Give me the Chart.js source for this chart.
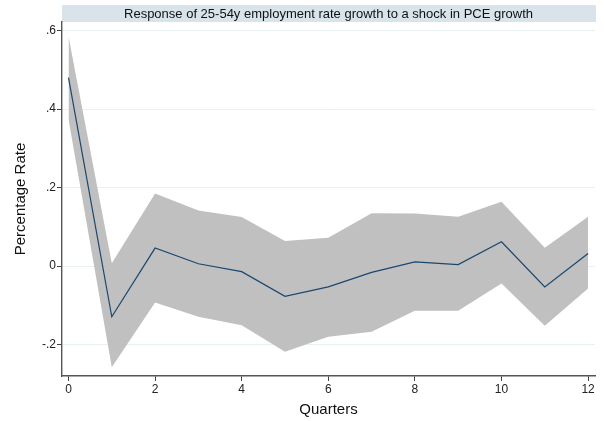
<!DOCTYPE html>
<html>
<head>
<meta charset="utf-8">
<title>Impulse response</title>
<script src="https://cdn.jsdelivr.net/npm/chart.js@4.4.1/dist/chart.umd.min.js"></script>
<style>
  html, body { margin: 0; padding: 0; background: #fff; }
  #irf-chart { display: block; }
</style>
</head>
<body>
<canvas id="irf-chart" width="605" height="421"></canvas>
<script>
// Horizon in quarters
const quarters = [0, 1, 2, 3, 4, 5, 6, 7, 8, 9, 10, 11, 12];
// Point estimate of the response
const response = [0.48, -0.129, 0.046, 0.006, -0.014, -0.077, -0.053, -0.016, 0.011, 0.004, 0.062, -0.053, 0.032];
// Confidence band
const upperBand = [0.586, 0.007, 0.185, 0.142, 0.125, 0.064, 0.072, 0.135, 0.134, 0.126, 0.164, 0.047, 0.126];
const lowerBand = [0.374, -0.258, -0.093, -0.129, -0.151, -0.218, -0.18, -0.167, -0.114, -0.114, -0.044, -0.152, -0.057];
// Axis ticks
const xTicks = [0, 2, 4, 6, 8, 10, 12];
const yTicks = [-0.2, 0, 0.2, 0.4, 0.6];

const chartTitle = 'Response of 25-54y employment rate growth to a shock in PCE growth';
const FONT = '"Liberation Sans", Arial, sans-serif';

const toPoints = arr => arr.map((v, i) => ({ x: quarters[i], y: v }));

// stata-ish number format: .6, -.2, 0
const fmt = v => {
  const r = Math.round(v * 10) / 10;
  if (r === 0) return '0';
  return String(r).replace(/^(-?)0\./, '$1.');
};

// title band sitting over the plot area
const titleBand = {
  id: 'titleBand',
  beforeDraw(chart) {
    const { ctx, chartArea } = chart;
    ctx.save();
    ctx.fillStyle = '#d8e4ea';
    ctx.fillRect(chartArea.left, 5, chartArea.right - chartArea.left + 1, 17);
    ctx.fillStyle = '#111';
    ctx.font = '13px ' + FONT;
    ctx.textAlign = 'center';
    ctx.textBaseline = 'middle';
    ctx.fillText(chartTitle, (chartArea.left + chartArea.right) / 2, 14);
    ctx.restore();
  }
};

const ctx = document.getElementById('irf-chart').getContext('2d');
new Chart(ctx, {
  type: 'line',
  data: {
    datasets: [
      {
        label: 'IRF',
        data: toPoints(response),
        borderColor: '#1a476f',
        borderWidth: 1.2,
        pointRadius: 0,
        fill: false,
        tension: 0
      },
      {
        label: 'Upper',
        data: toPoints(upperBand),
        borderWidth: 0,
        borderColor: 'rgba(0,0,0,0)',
        backgroundColor: '#c0c0c0',
        pointRadius: 0,
        fill: '+1'
      },
      {
        label: 'Lower',
        data: toPoints(lowerBand),
        borderWidth: 0,
        borderColor: 'rgba(0,0,0,0)',
        pointRadius: 0,
        fill: false
      }
    ]
  },
  options: {
    responsive: false,
    animation: false,
    layout: { padding: { top: 22, right: 10, left: 0, bottom: 0 } },
    plugins: {
      legend: { display: false },
      tooltip: { enabled: false },
      filler: { drawTime: 'beforeDatasetsDraw' }
    },
    scales: {
      x: {
        type: 'linear',
        min: -0.15,
        max: 12.16,
        afterBuildTicks: s => { s.ticks = xTicks.map(v => ({ value: v })); },
        afterFit: s => { s.height = 45; },
        ticks: {
          color: '#222',
          font: { family: FONT, size: 12 },
          padding: 1,
          maxRotation: 0,
          callback: v => String(v)
        },
        grid: {
          drawOnChartArea: false,
          tickLength: 5,
          tickColor: '#444',
          tickWidth: 1
        },
        border: { color: '#555', width: 1.4 },
        title: {
          display: true,
          text: 'Quarters',
          color: '#111',
          font: { family: FONT, size: 15 },
          padding: { top: 0, bottom: 2 }
        }
      },
      y: {
        min: -0.28,
        max: 0.622,
        afterBuildTicks: s => { s.ticks = yTicks.map(v => ({ value: v })); },
        afterFit: s => { s.width = 62; },
        ticks: {
          color: '#222',
          font: { family: FONT, size: 12 },
          padding: 1,
          callback: v => fmt(v)
        },
        grid: {
          color: '#e8f0f2',
          lineWidth: 1,
          tickLength: 5,
          tickColor: '#444',
          tickWidth: 1
        },
        border: { color: '#555', width: 1.4 },
        title: {
          display: true,
          text: 'Percentage Rate',
          color: '#111',
          font: { family: FONT, size: 15 },
          padding: { top: 12, bottom: 0 }
        }
      }
    }
  },
  plugins: [titleBand]
});
</script>
</body>
</html>
